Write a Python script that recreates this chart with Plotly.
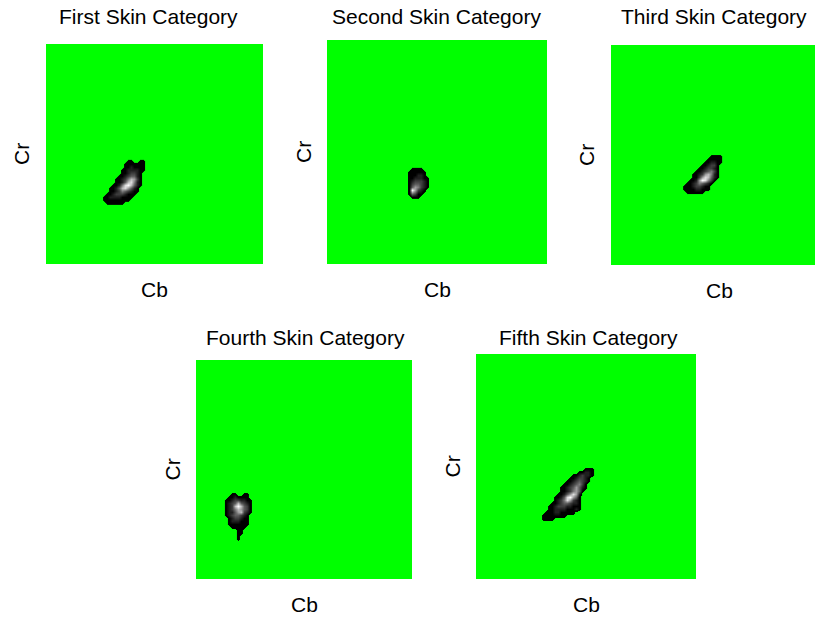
import numpy as np
import plotly.graph_objects as go

W, H = 815, 617
N_BINS = 72  # Cb / Cr histogram bins per panel side

titles = [
    "First Skin Category",
    "Second Skin Category",
    "Third Skin Category",
    "Fourth Skin Category",
    "Fifth Skin Category",
]

# Normalised Cb-Cr histogram counts (rows from high Cr to low Cr, digits 0-9, 0 = empty bin)
cat1_counts = [
    "00000000110011",
    "00000001111111",
    "00000001121111",
    "00000011222211",
    "00000011233210",
    "00000112344210",
    "00001123576310",
    "00001124785210",
    "00011258974210",
    "00112478642100",
    "00112354321100",
    "01123332111000",
    "11222211110000",
    "11111111100000",
    "01111110000000",
]
cat2_counts = [
    "0111100",
    "1111110",
    "1112210",
    "1122211",
    "1233321",
    "1344321",
    "1465321",
    "1963210",
    "1431100",
    "0111000",
]
cat3_counts = [
    "0000000001111",
    "0000000011111",
    "0000000112211",
    "0000001123310",
    "0000011233210",
    "0000112345310",
    "0001123675210",
    "0001136874210",
    "0011269853100",
    "0112354321000",
    "1112332110000",
    "1111221110000",
    "0111111000000",
]
cat4_counts = [
    "001100110",
    "011211110",
    "112332211",
    "123474321",
    "123797431",
    "123576431",
    "122467321",
    "123443210",
    "012332110",
    "012221110",
    "011111110",
    "001111100",
    "000011000",
    "000011000",
    "000010000",
    "000010000",
]
cat5_counts = [
    "00000000000000111",
    "00000000000011221",
    "00000000001123221",
    "00000000011233210",
    "00000000112343210",
    "00000001123453100",
    "00000011234642100",
    "00000011235641000",
    "00000112468620000",
    "00001124896410000",
    "00001235863210000",
    "00011234432210000",
    "00112333221110000",
    "00112222111210000",
    "01112211111000000",
    "11111111000000000",
    "11110000000000000",
]
category_counts = [cat1_counts, cat2_counts, cat3_counts, cat4_counts, cat5_counts]

# Bin of the upper-left corner of each occupied region: (Cb bin, Cr bin)
category_origin = [(18.6, 34.4), (26.2, 31.2), (23.6, 36.3), (9.3, 28.6), (21.3, 35.8)]

# Panel rectangles in pixels: (left, top, right, bottom)
panels = [
    (46, 44, 263, 264),
    (327, 40, 547, 264),
    (611, 45, 815, 265),
    (196, 360, 412, 579),
    (476, 354, 696, 579),
]
# Title centre x and baseline row y, in pixels
title_pos = [(148, 17), (436, 17), (714, 17), (305, 337), (588, 337)]

GREEN = "#00ff00"
colorscale = [
    [0.0, GREEN],
    [0.05, GREEN],
    [0.05, "#000000"],
    [0.11, "#000000"],
    [0.55, "#7a7a7a"],
    [1.0, "#ffffff"],
]

fig = go.Figure()
layout = dict(
    width=W,
    height=H,
    margin=dict(l=0, r=0, t=0, b=0),
    paper_bgcolor="white",
    plot_bgcolor=GREEN,
    showlegend=False,
)

annotations = []
font = dict(family="Liberation Sans, Arial, sans-serif", size=21, color="#000000")

for i, (rows, origin, box, title, tpos) in enumerate(
    zip(category_counts, category_origin, panels, titles, title_pos), start=1
):
    width = max(len(r) for r in rows)
    grid = np.array([[int(ch) for ch in r.ljust(width, "0")] for r in rows], float)
    grid = np.pad(grid, 1)
    nr, nc = grid.shape
    cb0, cr0 = origin
    x = cb0 - 1 + np.arange(nc) + 0.5
    y = cr0 + 1 - np.arange(nr) - 0.5
    fig.add_trace(
        go.Heatmap(
            z=grid[::-1],
            x=x,
            y=y[::-1],
            zmin=0,
            zmax=9,
            colorscale=colorscale,
            zsmooth="best",
            showscale=False,
            hoverinfo="skip",
            xaxis=f"x{i}",
            yaxis=f"y{i}",
        )
    )

    left, top, right, bottom = box
    cell_px = (263 - 46) / N_BINS
    x_span = (right - left) / cell_px if i == 3 else N_BINS
    suffix = "" if i == 1 else str(i)
    layout[f"xaxis{suffix}"] = dict(
        domain=[left / W, right / W], range=[0, x_span], visible=False,
        anchor=f"y{i}", fixedrange=True,
    )
    layout[f"yaxis{suffix}"] = dict(
        domain=[1 - bottom / H, 1 - top / H], range=[0, N_BINS], visible=False,
        anchor=f"x{i}", fixedrange=True,
    )

    cx = (left + (left + 217 if i == 3 else right)) / 2
    cy = (top + bottom) / 2
    annotations.append(dict(
        text=title, x=tpos[0] / W, y=1 - tpos[1] / H, xref="paper", yref="paper",
        showarrow=False, xanchor="center", yanchor="middle", font=font,
    ))
    annotations.append(dict(
        text="Cb", x=cx / W, y=1 - (bottom + 25) / H, xref="paper", yref="paper",
        showarrow=False, xanchor="center", yanchor="middle", font=font,
    ))
    annotations.append(dict(
        text="Cr", x=(left - 24) / W, y=1 - cy / H, xref="paper", yref="paper",
        showarrow=False, xanchor="center", yanchor="middle", textangle=-90, font=font,
    ))

layout["annotations"] = annotations
fig.update_layout(**layout)
fig.write_html("out.html")
